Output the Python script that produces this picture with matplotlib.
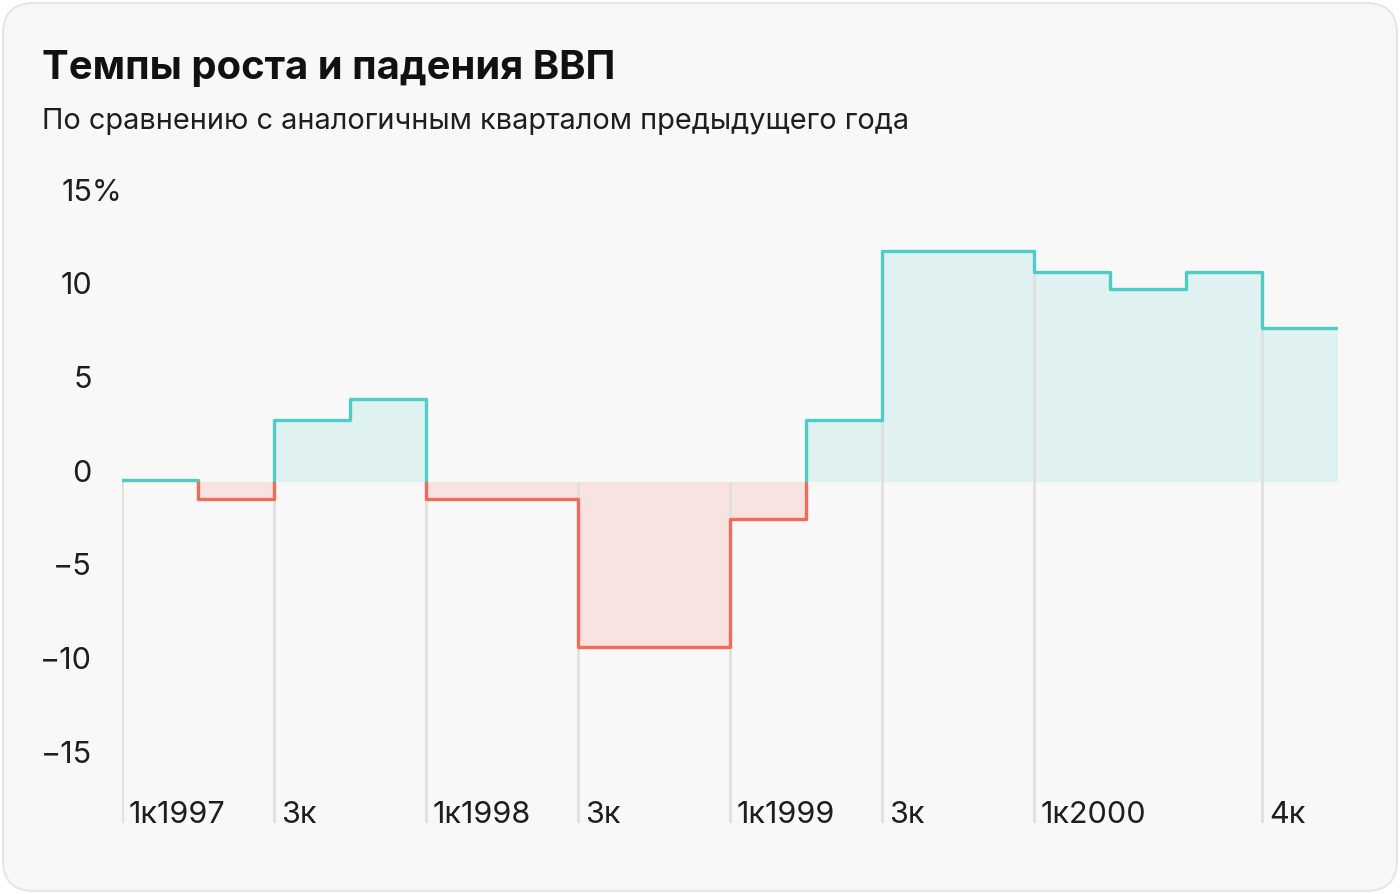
import numpy as np
import matplotlib
matplotlib.use("Agg")
import matplotlib.pyplot as plt
import matplotlib.transforms as mtransforms
from matplotlib.patches import FancyBboxPatch, Rectangle

plt.rcParams['font.family'] = ['Inter', 'DejaVu Sans']

# quarterly GDP growth, % y/y, 1q1997 .. 4q2000
growth = [0.1, -0.9, 3.3, 4.4,
          -0.9, -0.9, -8.8, -8.8,
          -2.0, 3.3, 12.3, 12.3,
          11.2, 10.3, 11.2, 8.2]
tick_quarters = [0, 2, 4, 6, 8, 10, 12, 15]
tick_labels = ["1к1997", "3к", "1к1998", "3к", "1к1999", "3к", "1к2000", "4к"]
y_ticks = [15, 10, 5, 0, -5, -10, -15]

title = "Темпы роста и падения ВВП"
subtitle = "По сравнению с аналогичным кварталом предыдущего года"

teal = "#4fcdc4"
teal_fill = "#dff1f0"
red = "#f26a59"
red_fill = "#f8e3e1"
bg = "#f8f8f8"
txt = "#1e1e1e"

W, H = 1400, 894
fig = plt.figure(figsize=(W / 100, H / 100), dpi=100)
fig.patch.set_facecolor("white")

card = FancyBboxPatch((3 / W, 3 / H), (W - 6) / W, (H - 6) / H,
                      boxstyle="round,pad=0,rounding_size=0.022",
                      transform=fig.transFigure, facecolor=bg,
                      edgecolor="#e6e6e6", linewidth=1.5,
                      mutation_aspect=W / H, zorder=-10)
fig.patches.append(card)

fig.text(42 / W, 1 - 79 / H, title, fontsize=28.8, fontweight="bold",
         color="#111111", va="baseline")
fig.text(42 / W, 1 - 129 / H, subtitle, fontsize=20.8,
         color=txt, va="baseline")

# axes geometry (pixels)
x0, x1 = 122, 1338
zero_px, unit_px = 481.7, 18.73
ymin, ymax = -18.2, 15.5
top_px = zero_px - ymax * unit_px
bot_px = zero_px - ymin * unit_px
ax = fig.add_axes([x0 / W, 1 - bot_px / H, (x1 - x0) / W, (bot_px - top_px) / H])
ax.set_xlim(0, len(growth))
ax.set_ylim(ymin, ymax)
ax.axis("off")

xs = np.arange(len(growth) + 1)
ys = np.array(growth + [growth[-1]])

# vertical grid lines
for q in tick_quarters:
    ax.plot([q, q], [ymin, max(growth[q], 0)], color="#e0e0e0", lw=2,
            zorder=1, solid_capstyle="butt")

ax.fill_between(xs, 0, np.maximum(ys, 0), step="post", color=teal_fill,
                lw=0, zorder=0)
ax.fill_between(xs, 0, np.minimum(ys, 0), step="post", color=red_fill,
                lw=0, zorder=0)

pos_line, = ax.step(xs, ys, where="post", color=teal, lw=2.4, zorder=3)
neg_line, = ax.step(xs, ys, where="post", color=red, lw=2.4, zorder=3)
pos_clip = Rectangle((0, 0), len(growth), 100, transform=ax.transData)
neg_clip = Rectangle((0, -100), len(growth), 100, transform=ax.transData)
pos_line.set_clip_path(pos_clip)
neg_line.set_clip_path(neg_clip)

# x labels
xlab_tr = mtransforms.offset_copy(ax.get_xaxis_transform(), fig=fig,
                                  x=7, y=0, units="dots")
for q, lab in zip(tick_quarters, tick_labels):
    ax.text(q, 0, lab, transform=xlab_tr, fontsize=22, color=txt,
            ha="left", va="baseline")

# y labels, right-aligned; the top one carries a "%" sign
ylab_tr = mtransforms.blended_transform_factory(fig.transFigure, ax.transData)
renderer = fig.canvas.get_renderer()
for v in y_ticks:
    lab = str(abs(v)) if v >= 0 else "\u2212" + str(abs(v))
    t = ax.text(92 / W, v, lab, transform=ylab_tr, fontsize=22, color=txt,
                ha="right", va="baseline", clip_on=False)
    if v == y_ticks[0]:
        left = t.get_window_extent(renderer).x0
        t.set_text(lab + "%")
        t.set_ha("left")
        t.set_x(left / W)

fig.savefig("out.png", dpi=100, facecolor="white")
